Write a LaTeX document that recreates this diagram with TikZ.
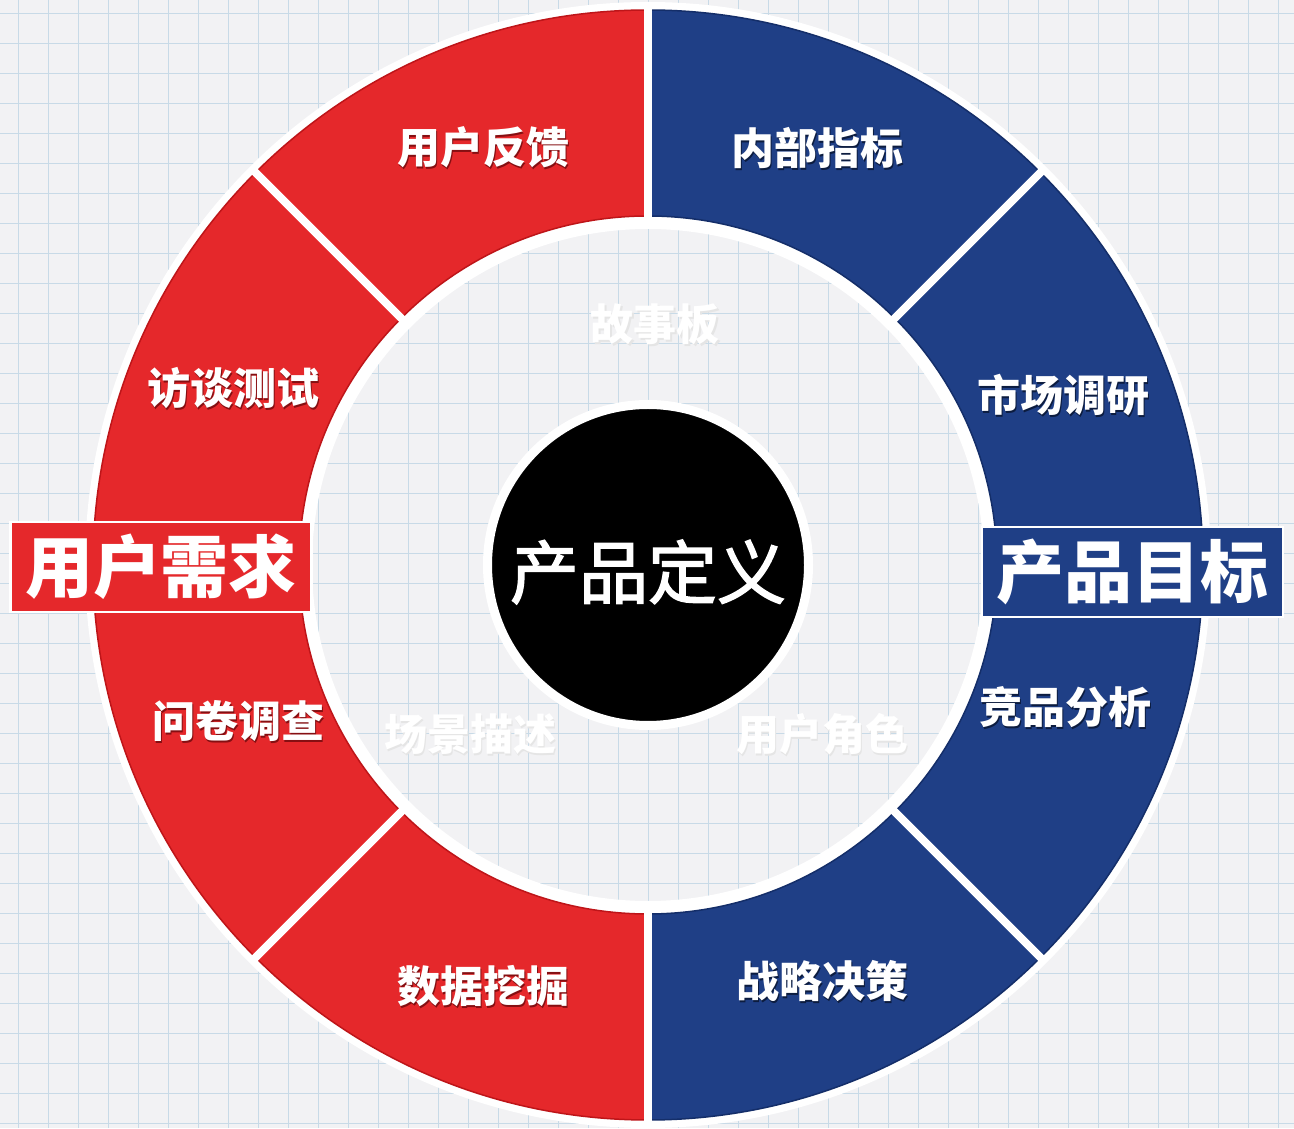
\documentclass[tikz,border=0pt]{standalone}
\usepackage{fontspec}
\newfontfamily\cjk{Noto Sans CJK SC}
\newfontfamily\cjkmed[BoldFont={Noto Sans CJK SC}, BoldFeatures={FakeBold=2}]{Noto Sans CJK SC}
\usetikzlibrary{calc}
\definecolor{bgc}{HTML}{F2F2F4}
\definecolor{gridc}{HTML}{C8DAE7}
\definecolor{redc}{HTML}{E5282B}
\definecolor{redd}{HTML}{BE1519}
\definecolor{bluec}{HTML}{1F3F86}
\definecolor{blued}{HTML}{142E69}
\newcommand{\shtext}[2]{\makebox[0pt][l]{\hspace{1.8pt}\raisebox{-1.8pt}{\color{#2}#1}}#1}
\tikzset{
  seglabel/.style={text=white, font=\cjk\bfseries\fontsize{43}{43}\selectfont, inner sep=0pt},
  biglabel/.style={text=white, font=\cjk\bfseries\fontsize{68}{68}\selectfont, inner sep=0pt},
  corelabel/.style={text=white, font=\cjkmed\bfseries\fontsize{69}{69}\selectfont, inner sep=0pt},
  faint/.style={text=white, font=\cjk\bfseries\fontsize{43}{43}\selectfont, inner sep=0pt},
  labelbox/.style={draw=white, line width=2.5pt, minimum width=301pt, minimum height=90pt, inner sep=0pt},
  divider/.style={white, line width=8pt},
  gridline/.style={gridc, line width=0.9pt}
}
\begin{document}
\begin{tikzpicture}[x=1pt,y=1pt]
\useasboundingbox (0,0) rectangle (1294,1128);
\fill[bgc] (0,0) rectangle (1294,1128);
\foreach \gx in {18,48,...,1294} \draw[gridline] (\gx,0) -- (\gx,1128);
\foreach \gy in {5,35,...,1120} \draw[gridline] (0,\gy) -- (1294,\gy);
\coordinate (C) at (648,563);
% white halo of the ring
\fill[white, even odd rule] (C) circle[radius=563pt] (C) circle[radius=336pt];
% red half
\fill[redc, draw=redd, line width=1.5pt] ($(C)+(90:555)$) arc[start angle=90, end angle=270, radius=555pt]
  -- ($(C)+(270:349)$) arc[start angle=270, end angle=90, radius=349pt] -- cycle;
% blue half
\fill[bluec, draw=blued, line width=1.5pt] ($(C)+(-90:555)$) arc[start angle=-90, end angle=90, radius=555pt]
  -- ($(C)+(90:349)$) arc[start angle=90, end angle=-90, radius=349pt] -- cycle;
% dividers
\foreach \a in {45,90,135,225,270,315} \draw[divider] ($(C)+(\a:338)$) -- ($(C)+(\a:562)$);
% centre
\node[circle, fill=black, draw=white, line width=9pt, minimum size=321pt, inner sep=0pt] (core) at (C) {};
\node[corelabel] (coretext) at (648,556) {产品定义};
% side boxes
\node[labelbox, fill=redc] (needbox) at (161,561) {};
\node[biglabel] (need) at (161,561) {用户需求};
\node[labelbox, fill=bluec] (goalbox) at (1132.5,556) {};
\node[biglabel] (goal) at (1132.5,556) {产品目标};
% segment labels
\node[seglabel] (s1) at (483,980) {\shtext{用户反馈}{redd!70!black}};
\node[seglabel] (s2) at (233,739) {\shtext{访谈测试}{redd!70!black}};
\node[seglabel] (s3) at (238,406) {\shtext{问卷调查}{redd!70!black}};
\node[seglabel] (s4) at (483,141) {\shtext{数据挖掘}{redd!70!black}};
\node[seglabel] (s5) at (817,979) {\shtext{内部指标}{blued!60!black}};
\node[seglabel] (s6) at (1063,732) {\shtext{市场调研}{blued!60!black}};
\node[seglabel] (s7) at (1065,420) {\shtext{竞品分析}{blued!60!black}};
\node[seglabel] (s8) at (822,146) {\shtext{战略决策}{blued!60!black}};
% faint inner labels
\node[faint] (f1) at (655,803) {\shtext{故事板}{black!10}};
\node[faint] (f2) at (470,393) {\shtext{场景描述}{black!10}};
\node[faint] (f3) at (822,393) {\shtext{用户角色}{black!10}};
\end{tikzpicture}
\end{document}
